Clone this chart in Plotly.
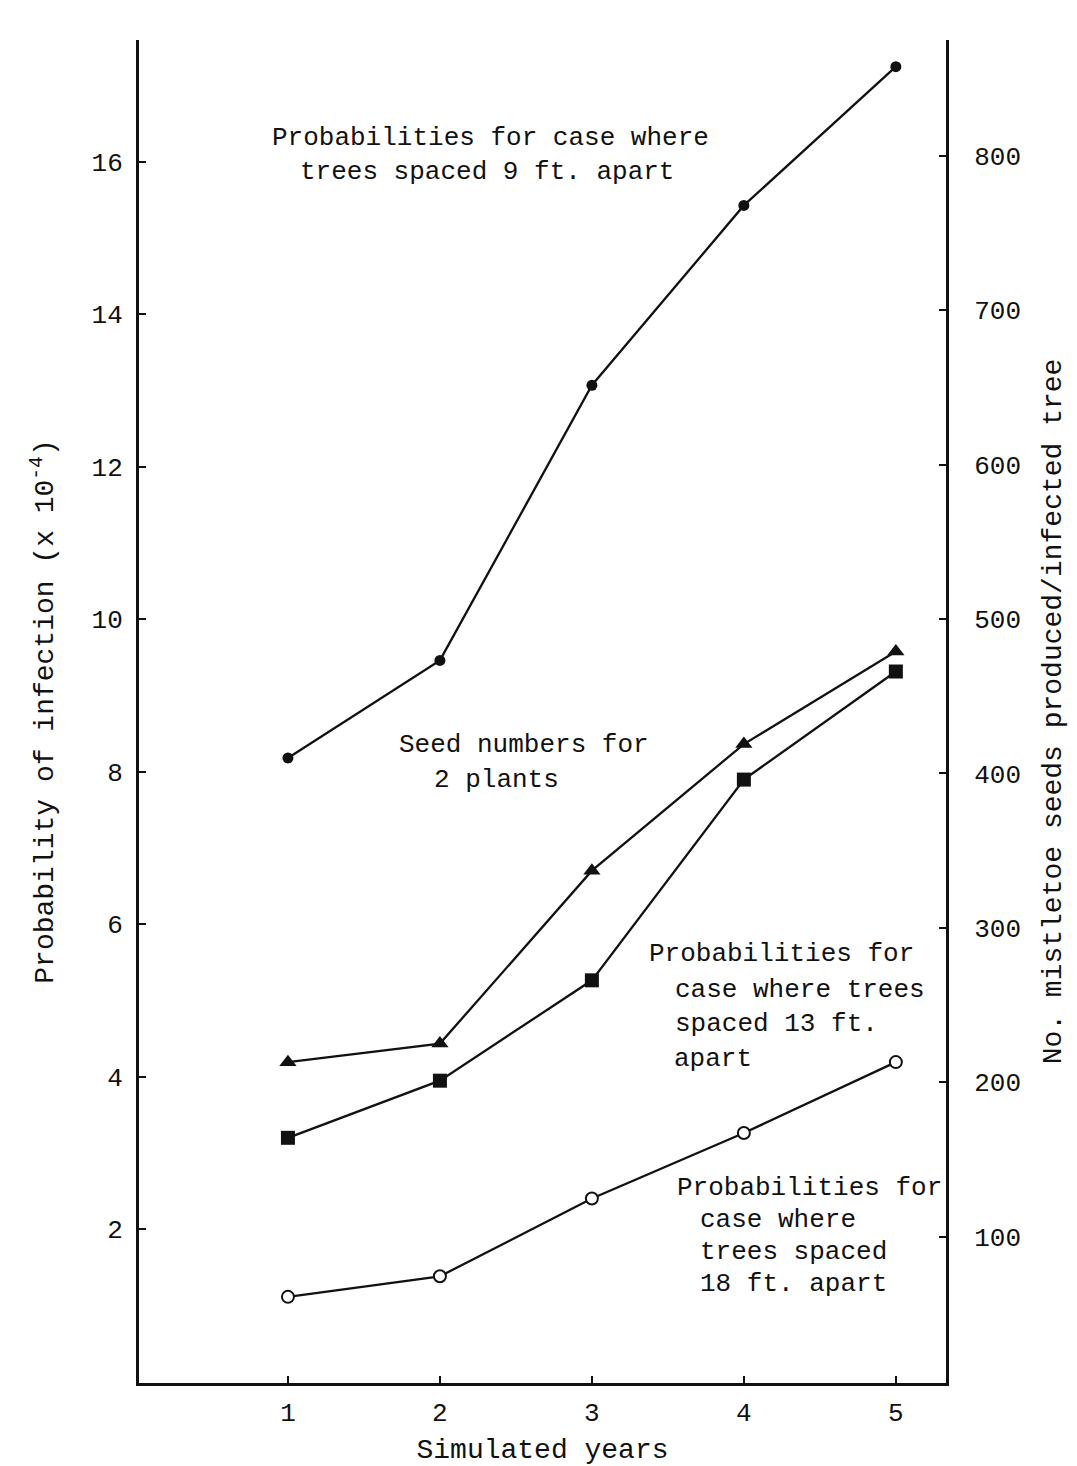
import plotly.graph_objects as go

# ---- data ----
years = [1, 2, 3, 4, 5]
prob_9ft = [8.18, 9.46, 13.07, 15.43, 17.25]      # filled circles, left axis
prob_18ft = [1.11, 1.38, 2.40, 3.26, 4.19]        # open circles, left axis
seeds_plant_a = [213, 225, 337, 419, 479]          # triangles, right axis
seeds_plant_b = [164, 201, 266, 396, 466]          # squares, right axis

x_ticks = [1, 2, 3, 4, 5]
left_ticks = [2, 4, 6, 8, 10, 12, 14, 16]
right_ticks = [100, 200, 300, 400, 500, 600, 700, 800]

FONT = "Liberation Mono"
BLACK = "#111111"

fig = go.Figure()

line_style = dict(color=BLACK, width=2.3)

fig.add_trace(go.Scatter(x=years, y=prob_9ft, mode="lines+markers", yaxis="y",
                         line=line_style,
                         marker=dict(symbol="circle", size=11, color=BLACK),
                         showlegend=False))
fig.add_trace(go.Scatter(x=years, y=seeds_plant_a, mode="lines+markers", yaxis="y2",
                         line=line_style,
                         marker=dict(symbol="triangle-up", size=15, color=BLACK),
                         showlegend=False))
fig.add_trace(go.Scatter(x=years, y=seeds_plant_b, mode="lines+markers", yaxis="y2",
                         line=line_style,
                         marker=dict(symbol="square", size=14, color=BLACK),
                         showlegend=False))
fig.add_trace(go.Scatter(x=years, y=prob_18ft, mode="lines+markers", yaxis="y",
                         line=line_style,
                         marker=dict(symbol="circle", size=12, color="white",
                                     line=dict(color=BLACK, width=2)),
                         showlegend=False))

# ---- text labels (one annotation per printed line) ----
W_L, W_R, H_T, H_B = 139, 946, 40, 1383


def px_to_paper(px, py):
    return (px - W_L) / (W_R - W_L), (H_B - py) / (H_B - H_T)


label_lines = [
    ("Probabilities for case where", 270, 138),
    ("trees spaced 9 ft. apart", 298, 172),
    ("Seed numbers for", 397, 745),
    ("2 plants", 432, 780),
    ("Probabilities for", 647, 954),
    ("case where trees", 673, 990),
    ("spaced 13 ft.", 673, 1024),
    ("apart", 672, 1059),
    ("Probabilities for", 675, 1188),
    ("case where", 698, 1220),
    ("trees spaced", 698, 1252),
    ("18 ft. apart", 698, 1284),
]
for txt, px, py in label_lines:
    xp, yp = px_to_paper(px, py)
    fig.add_annotation(text=txt, x=xp, y=yp, xref="paper", yref="paper",
                       xanchor="left", yanchor="middle", showarrow=False,
                       font=dict(family=FONT, size=26, color=BLACK))

axis_common = dict(showline=True, linecolor=BLACK, linewidth=3, showgrid=False,
                   zeroline=False, ticks="inside", ticklen=7, tickwidth=2,
                   automargin=False,
                   tickcolor=BLACK, tickfont=dict(family=FONT, size=26, color=BLACK))

fig.update_layout(
    width=1077, height=1466,
    margin=dict(l=W_L, r=1077 - W_R, t=H_T, b=1466 - H_B),
    paper_bgcolor="white", plot_bgcolor="white",
    xaxis=dict(range=[0.02, 5.33], tickvals=x_ticks, ticklabelstandoff=4,
               title=dict(text="Simulated years", standoff=14,
                          font=dict(family=FONT, size=28, color=BLACK)),
               **axis_common),
    yaxis=dict(range=[-0.02, 17.6], tickvals=left_ticks, ticklabelstandoff=8,
               title=dict(text="Probability of infection (x 10<sup>-4</sup>)", standoff=30,
                          font=dict(family=FONT, size=28, color=BLACK)),
               **axis_common),
    yaxis2=dict(range=[5.2, 875], tickvals=right_ticks, overlaying="y", side="right",
                ticklabelstandoff=20,
                title=dict(text="No. mistletoe seeds produced/infected tree", standoff=22,
                           font=dict(family=FONT, size=28, color=BLACK)),
                **axis_common),
)

fig.write_html("out.html")
